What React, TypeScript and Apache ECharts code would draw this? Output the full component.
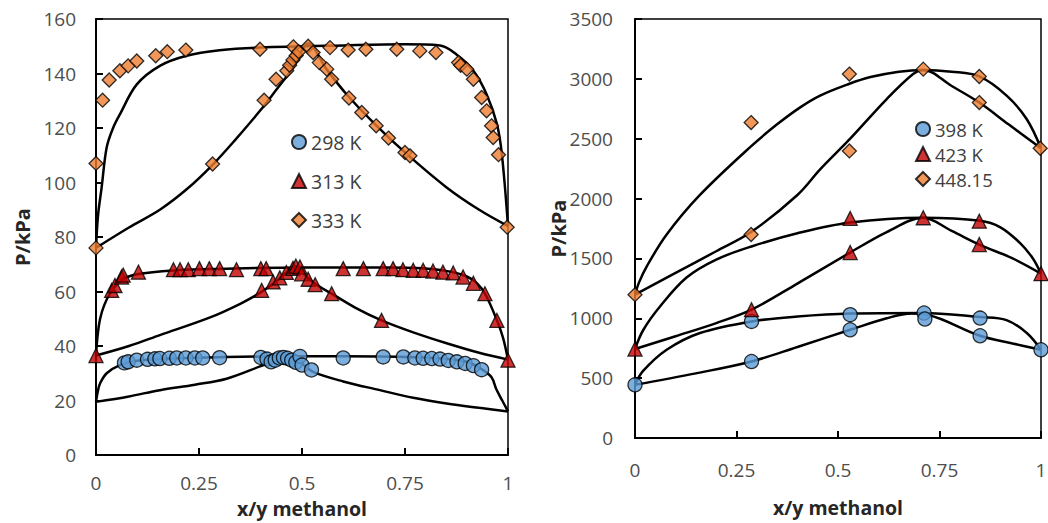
import React, { useEffect, useRef } from "react";
import * as echarts from "echarts";

// ---------- Left panel (298 K, 313 K, 333 K) ----------
const leftLegend = ["298 K", "313 K", "333 K"];
const pts298: number[][] = [
  [0.069, 33.8], [0.078, 34.2], [0.099, 34.8], [0.125, 35.1], [0.143, 35.3], [0.155, 35.4],
  [0.178, 35.5], [0.196, 35.6], [0.218, 35.6], [0.24, 35.6], [0.259, 35.6], [0.30, 35.7],
  [0.40, 35.8], [0.415, 35.2], [0.425, 34.2], [0.435, 34.8], [0.445, 35.6], [0.455, 35.8],
  [0.465, 35.5], [0.475, 34.8], [0.485, 34.0], [0.495, 36.2], [0.50, 33.0], [0.523, 31.2],
  [0.60, 35.6], [0.697, 36.0], [0.746, 36.0], [0.774, 35.6], [0.794, 35.5], [0.815, 35.4],
  [0.835, 35.2], [0.855, 34.7], [0.876, 34.2], [0.896, 33.6], [0.916, 32.8], [0.936, 31.3],
];
const pts313: number[][] = [
  [0, 36.5], [0.038, 60.4], [0.046, 62.2], [0.062, 65.3], [0.066, 66.0], [0.103, 67.1],
  [0.188, 68.0], [0.204, 68.0], [0.224, 68.0], [0.251, 68.4], [0.275, 68.4], [0.30, 68.4],
  [0.341, 68.0], [0.40, 68.4], [0.413, 68.4], [0.402, 60.4], [0.43, 63.5], [0.446, 65.0],
  [0.462, 67.0], [0.478, 68.5], [0.485, 69.3], [0.495, 69.0], [0.499, 66.5], [0.515, 64.5],
  [0.532, 62.5], [0.572, 59.2], [0.693, 49.4], [0.60, 68.4], [0.649, 68.4], [0.697, 68.4],
  [0.721, 68.4], [0.745, 68.0], [0.77, 67.8], [0.794, 67.8], [0.818, 67.5], [0.842, 67.1],
  [0.867, 66.8], [0.891, 65.3], [0.916, 63.0], [0.944, 59.2], [0.973, 49.4], [1, 34.8],
];
const pts333: number[][] = [
  [0, 76], [0, 107], [0.016, 130.2], [0.032, 137.6], [0.058, 141], [0.078, 142.8],
  [0.099, 144.6], [0.145, 146.5], [0.173, 148], [0.218, 148.6], [0.398, 148.9], [0.479, 149.8],
  [0.568, 149.5], [0.612, 148.6], [0.655, 148.9], [0.73, 148.9], [0.786, 148.3], [0.825, 147.7],
  [0.88, 144], [0.885, 143], [0.90, 141.6], [0.916, 137.9], [0.936, 131.2], [0.948, 126.3],
  [0.96, 120.8], [0.964, 116.5], [0.977, 110.2], [0.998, 83.6],
  [0.283, 106.8], [0.408, 130.2], [0.437, 137.9], [0.463, 141], [0.47, 143], [0.478, 145],
  [0.486, 146.6], [0.492, 148], [0.515, 150], [0.527, 147.7], [0.542, 144], [0.56, 141.6],
  [0.572, 137.9], [0.614, 131], [0.645, 125.7], [0.68, 120.8], [0.71, 116.3], [0.75, 111],
  [0.762, 109.8],
];
const curve298Up: number[][] = [
  [0, 19.5], [0.004, 23], [0.01, 26.3], [0.026, 30], [0.058, 33], [0.1, 34.6], [0.2, 35.5],
  [0.3, 35.9], [0.47, 36.2], [0.6, 36.2], [0.75, 36], [0.85, 35.3], [0.9, 34.2], [0.936, 31.5],
  [0.96, 28.5], [0.972, 24], [0.986, 20], [1, 16],
];
const curve298Low: number[][] = [
  [0, 19.5], [0.08, 21.5], [0.155, 23.8], [0.24, 25.8], [0.317, 28], [0.398, 32.5], [0.44, 35],
  [0.47, 36], [0.5, 33.5], [0.527, 30.5], [0.6, 27], [0.689, 23.8], [0.77, 21], [0.851, 18.9],
  [0.93, 17.3], [1, 16],
];
const curve313Up: number[][] = [
  [0, 36.5], [0.004, 44], [0.01, 50], [0.02, 55], [0.035, 59.5], [0.06, 64], [0.1, 66.3],
  [0.2, 67.8], [0.3, 68.3], [0.5, 68.8], [0.7, 68.8], [0.8, 68.4], [0.86, 67.3], [0.9, 65.5],
  [0.925, 63], [0.945, 59], [0.973, 49.5], [0.988, 43], [1, 35],
];
const curve313Low: number[][] = [
  [0, 36.5], [0.08, 40], [0.155, 44], [0.277, 50.5], [0.35, 55.5], [0.398, 59.5], [0.44, 64],
  [0.485, 69], [0.5, 67], [0.53, 63], [0.572, 59.2], [0.63, 54], [0.693, 49.4], [0.77, 45],
  [0.851, 41], [0.93, 37.5], [1, 35],
];
const curve333Up: number[][] = [
  [0, 76], [0.005, 88], [0.0137, 98.2], [0.026, 112.9], [0.042, 120.2], [0.058, 125],
  [0.099, 136], [0.155, 142.8], [0.22, 146.5], [0.3, 148.5], [0.398, 149.5], [0.6, 150.3],
  [0.75, 150.7], [0.835, 150.3], [0.875, 147], [0.916, 141], [0.948, 132.4], [0.973, 121.5],
  [0.985, 110.5], [1, 84],
];
const curve333Low: number[][] = [
  [0, 76], [0.08, 83.5], [0.155, 90], [0.22, 97.5], [0.283, 106.5], [0.34, 116], [0.398, 126.3],
  [0.44, 134.5], [0.479, 142.2], [0.515, 151], [0.56, 141.5], [0.608, 132.4], [0.68, 121],
  [0.754, 110.5], [0.851, 98.2], [0.93, 90], [1, 84],
];

// ---------- Right panel (398 K, 423 K, 448.15) ----------
const rightLegend = ["398 K", "423 K", "448.15"];
const pts398: number[][] = [
  [0, 444], [0.287, 974], [0.287, 639], [0.53, 1030], [0.53, 904], [0.712, 1044],
  [0.714, 994], [0.85, 1002], [0.85, 854], [1, 737],
];
const pts423: number[][] = [
  [0, 743], [0.287, 1072], [0.53, 1549], [0.53, 1834], [0.71, 1840], [0.848, 1811],
  [0.848, 1616], [1, 1373],
];
const pts448: number[][] = [
  [0, 1197], [0.286, 1700], [0.286, 2635], [0.528, 3040], [0.528, 2398], [0.71, 3081],
  [0.848, 3020], [0.848, 2802], [0.998, 2420],
];
const curve398Up: number[][] = [
  [0, 444], [0.02, 560], [0.078, 737], [0.16, 877], [0.287, 974], [0.4, 1015], [0.53, 1040],
  [0.71, 1045], [0.85, 1010], [0.915, 985], [0.965, 877], [1, 737],
];
const curve398Low: number[][] = [
  [0, 444], [0.15, 540], [0.287, 639], [0.4, 760], [0.53, 904], [0.62, 1000], [0.68, 1040],
  [0.72, 1030], [0.85, 854], [0.93, 790], [1, 737],
];
const curve423Up: number[][] = [
  [0, 743], [0.02, 900], [0.062, 1100], [0.127, 1340], [0.2, 1490], [0.287, 1600],
  [0.4, 1710], [0.53, 1800], [0.71, 1840], [0.85, 1815], [0.9, 1760], [0.948, 1630],
  [0.98, 1500], [1, 1373],
];
const curve423Low: number[][] = [
  [0, 743], [0.1, 850], [0.2, 960], [0.287, 1072], [0.4, 1290], [0.53, 1549], [0.62, 1720],
  [0.71, 1840], [0.78, 1730], [0.848, 1616], [0.93, 1500], [1, 1373],
];
const curve448Up: number[][] = [
  [0, 1197], [0.01, 1300], [0.03, 1440], [0.078, 1700], [0.16, 2030], [0.287, 2440],
  [0.35, 2620], [0.406, 2760], [0.456, 2860], [0.525, 2955], [0.58, 3015], [0.65, 3060],
  [0.71, 3075], [0.78, 3060], [0.848, 3020], [0.916, 2858], [0.965, 2663], [1, 2420],
];
const curve448Low: number[][] = [
  [0, 1197], [0.1, 1380], [0.2, 1560], [0.286, 1720], [0.4, 2030], [0.456, 2244],
  [0.53, 2500], [0.62, 2831], [0.685, 3040], [0.71, 3075], [0.78, 2940], [0.848, 2802],
  [0.92, 2620], [1, 2420],
];

const BLUE = "#5B9BD5";
const RED = "#C00000";
const ORANGE = "#ED7D31";
const TICK_COLOR = "#4d4d4d";
const TITLE_COLOR = "#262626";

function curve(data: number[][], gi: number) {
  return {
    type: "line",
    xAxisIndex: gi,
    yAxisIndex: gi,
    data,
    symbol: "none",
    smooth: 0.35,
    lineStyle: { color: "#000", width: 2.5 },
    silent: true,
    z: 2,
  };
}

function pts(name: string, data: number[][], gi: number, symbol: string, color: string) {
  return {
    type: "scatter",
    name,
    xAxisIndex: gi,
    yAxisIndex: gi,
    data,
    symbol,
    symbolSize: 14,
    itemStyle: { color, borderColor: "#000", borderWidth: 1.3 },
    z: 3,
  };
}

function xAxis(gi: number, margin: number, nameGap: number) {
  return {
    type: "value",
    gridIndex: gi,
    min: 0,
    max: 1,
    interval: 0.25,
    name: "x/y methanol",
    nameLocation: "middle",
    nameGap,
    nameMoveOverlap: false,
    nameTextStyle: { fontSize: 19.5, lineHeight: 22, fontWeight: "bold", color: TITLE_COLOR, fontFamily: "Open Sans" },
    axisLine: { show: true, lineStyle: { color: "#000", width: 2 } },
    axisTick: { show: true, inside: true, length: 7, lineStyle: { color: "#000", width: 2 } },
    axisLabel: { fontSize: 19, lineHeight: 19, color: TICK_COLOR, margin, fontFamily: "Open Sans", formatter: (v: number) => String(v) },
    splitLine: { show: false },
  };
}

function yAxis(gi: number, max: number, interval: number, margin: number, nameGap: number) {
  return {
    type: "value",
    gridIndex: gi,
    min: 0,
    max,
    interval,
    name: "P/kPa",
    nameLocation: "middle",
    nameGap,
    nameMoveOverlap: false,
    nameTextStyle: { fontSize: 20, fontWeight: "bold", color: TITLE_COLOR, fontFamily: "Open Sans" },
    axisLine: { show: true, lineStyle: { color: "#000", width: 2 } },
    axisTick: { show: true, inside: true, length: 7, lineStyle: { color: "#000", width: 2 } },
    axisLabel: { fontSize: 19, color: TICK_COLOR, margin, fontFamily: "Open Sans", formatter: (v: number) => String(v) },
    splitLine: { show: false },
  };
}

export default function App() {
  const ref = useRef<HTMLDivElement>(null);
  useEffect(() => {
    if (!ref.current) return;
    const chart = echarts.init(ref.current, undefined, { renderer: "svg" });
    chart.setOption({
      animation: false,
      backgroundColor: "#fff",
      textStyle: { fontFamily: "Open Sans" },
      grid: [
        { left: 96, top: 19, width: 412, height: 436, show: true, borderColor: "#000", borderWidth: 1.5, backgroundColor: "transparent", containLabel: false, outerBoundsMode: "none" },
        { left: 635, top: 19, width: 406, height: 419, show: true, borderColor: "#000", borderWidth: 1.5, backgroundColor: "transparent", containLabel: false, outerBoundsMode: "none" },
      ],
      xAxis: [xAxis(0, 18, 42), xAxis(1, 22, 58)],
      yAxis: [yAxis(0, 160, 20, 20, 64), yAxis(1, 3500, 500, 22, 67)],
      legend: [
        {
          data: leftLegend,
          orient: "vertical",
          left: 286,
          top: 127,
          itemWidth: 14,
          itemHeight: 14,
          itemGap: 19,
          textStyle: { fontSize: 19.5, color: "#404040", lineHeight: 20, fontFamily: "Open Sans" },
          selectedMode: false,
        },
        {
          data: rightLegend,
          orient: "vertical",
          left: 910,
          top: 114,
          itemWidth: 14,
          itemHeight: 14,
          itemGap: 5,
          textStyle: { fontSize: 18.5, color: "#404040", lineHeight: 20, fontFamily: "Open Sans" },
          selectedMode: false,
        },
      ],
      series: [
        curve(curve298Up, 0),
        curve(curve298Low, 0),
        curve(curve313Up, 0),
        curve(curve313Low, 0),
        curve(curve333Up, 0),
        curve(curve333Low, 0),
        curve(curve398Up, 1),
        curve(curve398Low, 1),
        curve(curve423Up, 1),
        curve(curve423Low, 1),
        curve(curve448Up, 1),
        curve(curve448Low, 1),
        pts("298 K", pts298, 0, "circle", BLUE),
        pts("313 K", pts313, 0, "triangle", RED),
        pts("333 K", pts333, 0, "diamond", ORANGE),
        pts("398 K", pts398, 1, "circle", BLUE),
        pts("423 K", pts423, 1, "triangle", RED),
        pts("448.15", pts448, 1, "diamond", ORANGE),
      ],
    });
    return () => chart.dispose();
  }, []);
  return (
    <div
      ref={ref}
      style={{ position: "absolute", left: 0, top: 0, width: 1048, height: 523, background: "#fff" }}
    />
  );
}
